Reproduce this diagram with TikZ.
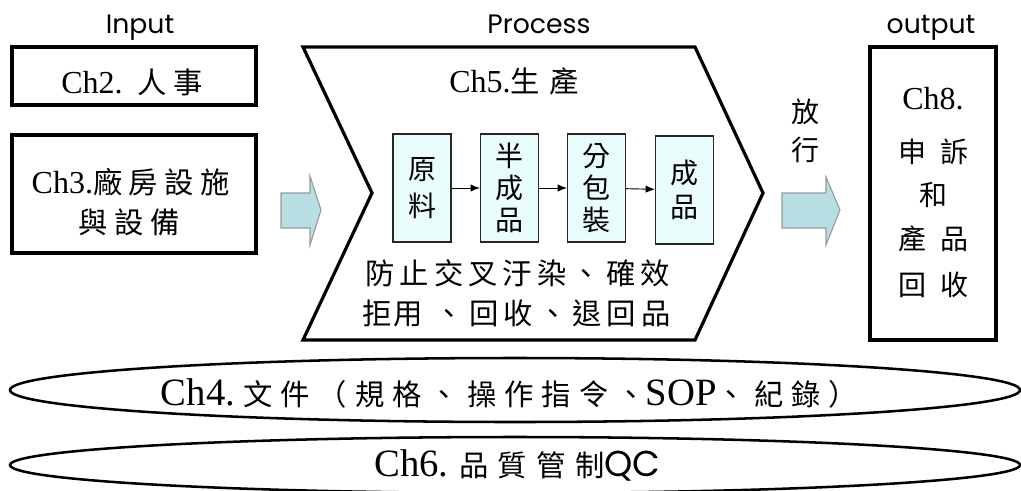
\documentclass[tikz,border=0pt]{standalone}
\usepackage{fontspec}
\setmainfont{Liberation Serif}
\newfontfamily\cjk{Noto Sans CJK TC}
\newfontfamily\gothic{Poppins}
\usetikzlibrary{arrows.meta,shapes.geometric}

\definecolor{arrowfill}{HTML}{B7DEE2}
\definecolor{stepfill}{HTML}{EAFDFD}

% letter-spaced text: #1 = gap after each character, #2 = characters
\makeatletter
\newcommand\gapped[2]{\@tfor\gp@c:=#2\do{\gp@c\hspace{#1}}\unskip}
\makeatother
% CJK run: #1 size (pt), #2 gap, #3 text
\newcommand\zhs[3]{{\cjk\fontsize{#1}{#1}\selectfont\gapped{#2}{#3}}}
\newcommand\zh[1]{\zhs{22}{5pt}{#1}}

\begin{document}
\begin{tikzpicture}[x=0.75pt,y=-0.75pt,
  heavy/.style={draw, line width=3.4pt, inner sep=0pt},
  caption/.style={font=\gothic\fontsize{20}{24}\selectfont, inner sep=0pt, anchor=base},
  txt/.style={inner sep=0pt, font=\fontsize{24}{28}\selectfont},
  stepbox/.style={draw=black!85, fill=stepfill, line width=0.8pt,
    minimum width=43.5pt, minimum height=81pt, inner sep=0pt, align=center,
    font=\cjk\fontsize{21}{24}\selectfont},
  blockarrow/.style={fill=arrowfill, draw=black!40, line width=0.8pt},
  band/.style={ellipse, draw, line width=1.9pt, inner sep=0pt},
  flow/.style={-{Latex[length=7pt,width=5.5pt]}, line width=0.7pt}
]
\useasboundingbox (0,0) rectangle (1021,490);

% column captions
\node[caption] (cin)  at (140,33) {Input};
\node[caption] (cpro) at (539,33) {Process};
\node[caption] (cout) at (931,33) {output};

% input boxes
\node[heavy, minimum width=183pt, minimum height=43.5pt] (hr) at (134,76) {};
\node[txt] (hrt) at (132,82) {Ch2.\hspace{11pt}\zh{人事}};
\node[heavy, minimum width=183pt, minimum height=88.5pt] (fac) at (134,194) {};
\node[txt] (fac1) at (131,182) {Ch3.\zh{廠房設施}};
\node[txt] (fac2) at (129,222) {\zh{與設備}};

% block arrow into the process
\draw[blockarrow] (281,193) -- (310,193) -- (310,176) -- (321,210)
  -- (310,245) -- (310,228) -- (281,228) -- cycle;

% process chevron
\draw[line width=2.4pt, line join=miter]
  (303,47) -- (695,47) -- (763,193) -- (695,340) -- (303,340) -- (372,193) -- cycle;
\node[txt] (prod) at (514,81) {Ch5.\zhs{22}{7pt}{生產}};

% production steps
\node[stepbox, font=\cjk\fontsize{21}{28}\selectfont] (s1) at (422,188) {原\\料};
\node[stepbox] (s2) at (509.5,188) {半\\成\\品};
\node[stepbox] (s3) at (596.5,188) {分\\包\\裝};
\node[stepbox, font=\cjk\fontsize{21}{26}\selectfont] (s4) at (684.5,190) {成\\品};
\draw[flow] (s1) -- (s2);
\draw[flow] (s2) -- (s3);
\draw[flow] (s3) -- (s4);

\node[txt] (rule1) at (517.5,273.5) {\zhs{22}{3.8pt}{防止交叉汙染、確效}};
\node[txt] (rule2) at (516.5,313.5)
  {\zhs{22}{1.5pt}{拒用}\hspace{9pt}\zhs{22}{3.8pt}{、回收、退回品}};

% release arrow
\node[txt] (rel1) at (805,112) {\zhs{21}{0pt}{放}};
\node[txt] (rel2) at (805,150) {\zhs{21}{0pt}{行}};
\draw[blockarrow] (782,193) -- (826,193) -- (826,177) -- (840,210)
  -- (826,245) -- (826,228) -- (782,228) -- cycle;

% output box
\node[heavy, minimum width=94.5pt, minimum height=219.75pt] (out) at (933,193.5) {};
\node[txt] (o1) at (933,99)  {Ch8.};
\node[txt] (o2) at (933,152) {\zhs{21}{10.5pt}{申訴}};
\node[txt] (o3) at (933,195) {\zhs{21}{0pt}{和}};
\node[txt] (o4) at (933,239) {\zhs{21}{10.5pt}{產品}};
\node[txt] (o5) at (933,285) {\zhs{21}{10.5pt}{回收}};

% supporting bands
\node[band, minimum width=757.5pt, minimum height=48pt] (docs) at (515,390) {};
\node[inner sep=0pt, font=\fontsize{29}{32}\selectfont] (docst) at (509.5,393)
  {Ch4.\hspace{6pt}\zhs{22}{6pt}{文件（規格、操作指令、}SOP\zhs{22}{6pt}{、紀錄）}};
\node[band, minimum width=757.5pt, minimum height=42pt] (qc) at (515,465) {};
\node[inner sep=0pt, font=\fontsize{29}{32}\selectfont] (qct) at (517.5,465)
  {Ch6.\hspace{8pt}\zhs{22}{7pt}{品質管制}{\gothic\fontsize{27}{30}\selectfont QC}};
\end{tikzpicture}
\end{document}
